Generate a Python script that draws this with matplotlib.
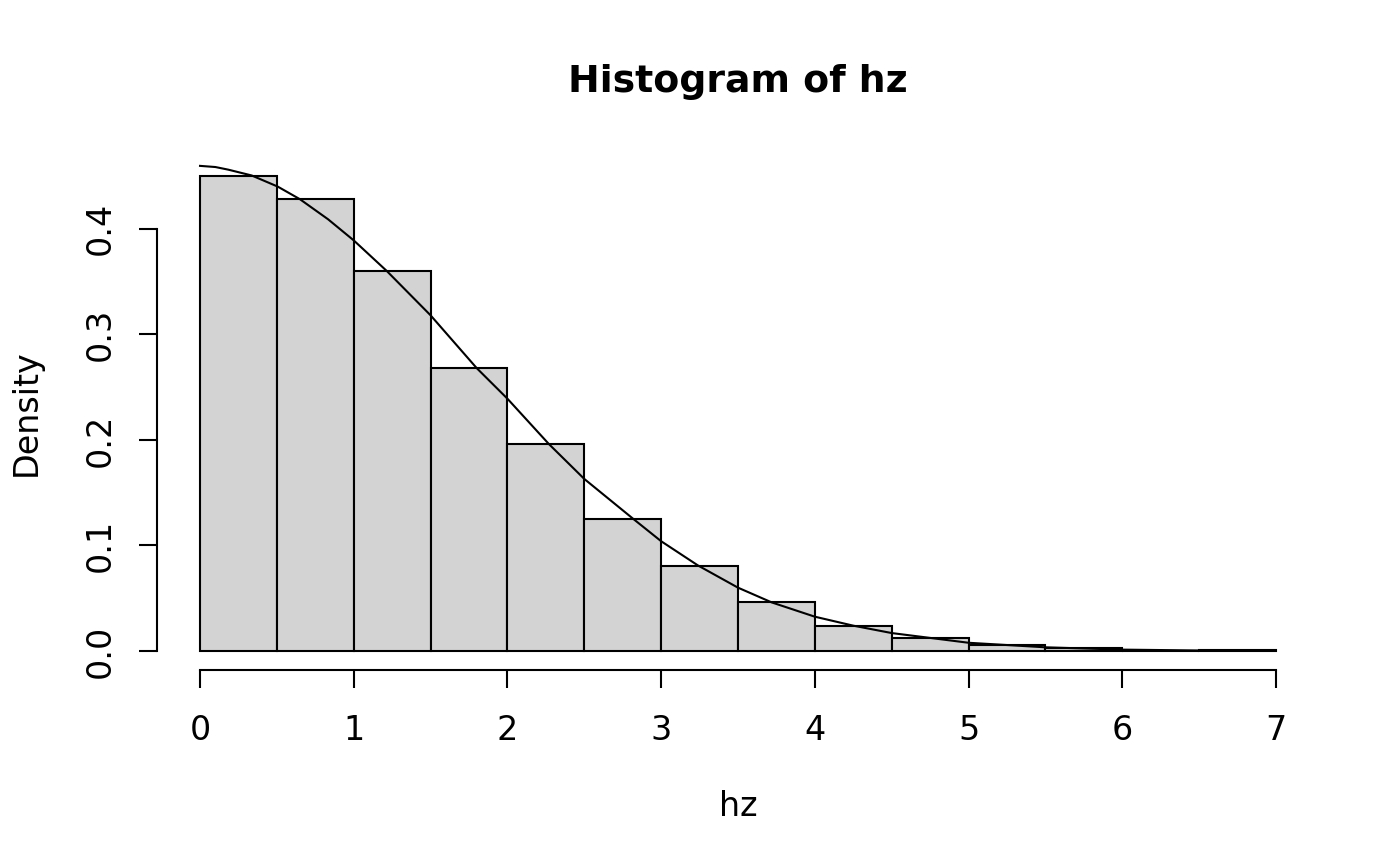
import matplotlib
matplotlib.use("Agg")
import matplotlib.pyplot as plt
import numpy as np

# Histogram data (density), bins of width 0.5 from 0 to 7
bin_edges = [0.0, 0.5, 1.0, 1.5, 2.0, 2.5, 3.0, 3.5, 4.0, 4.5, 5.0, 5.5, 6.0, 6.5, 7.0]
densities = [0.450, 0.428, 0.360, 0.268, 0.196, 0.125, 0.081, 0.046, 0.024, 0.012,
             0.006, 0.003, 0.0004, 0.001]

# Density curve points
curve_x = [0.0, 0.1, 0.184, 0.336, 0.505, 0.65, 0.833, 1.0, 1.215, 1.5, 1.8, 2.0, 2.27,
           2.5, 2.82, 3.0, 3.24, 3.5, 3.72, 4.0, 4.25, 4.5, 5.0, 5.5, 6.0, 6.5, 7.0]
curve_y = [0.4596, 0.4585, 0.456, 0.4505, 0.440, 0.428, 0.409, 0.389, 0.360, 0.318,
           0.268, 0.239, 0.196, 0.163, 0.125, 0.104, 0.081, 0.060, 0.046, 0.0325,
           0.024, 0.017, 0.0078, 0.0035, 0.0013, 0.0005, 0.0002]

x_ticks = [0, 1, 2, 3, 4, 5, 6, 7]
x_tick_labels = ["0", "1", "2", "3", "4", "5", "6", "7"]
y_ticks = [0.0, 0.1, 0.2, 0.3, 0.4]
y_tick_labels = ["0.0", "0.1", "0.2", "0.3", "0.4"]

plt.rcParams['font.family'] = ['DejaVu Sans']

W, H = 1400, 866
fig = plt.figure(figsize=(14, 8.66), dpi=100)
left, right, top, bottom = 157, 1319, 157, 670
ax = fig.add_axes([left / W, 1 - bottom / H, (right - left) / W, (bottom - top) / H])

lw = 1.5
widths = np.diff(bin_edges)
ax.bar(bin_edges[:-1], densities, width=widths, align='edge', color='#D3D3D3',
       edgecolor='black', linewidth=lw)
ax.plot(curve_x, curve_y, color='black', linewidth=lw, solid_joinstyle='round')

ax.set_xlim(-0.28, 7.28)
ax.set_ylim(-0.018, 0.468)

for s in ['top', 'right']:
    ax.spines[s].set_visible(False)
ax.spines['left'].set_bounds(0, 0.4)
ax.spines['bottom'].set_bounds(0, 7)
ax.spines['left'].set_linewidth(lw)
ax.spines['bottom'].set_linewidth(lw)

ax.set_xticks(x_ticks)
ax.set_xticklabels(x_tick_labels)
ax.set_yticks(y_ticks)
ax.set_yticklabels(y_tick_labels, rotation=90, va='center')
ax.tick_params(axis='both', direction='out', length=13, width=lw, labelsize=24, color='black')
ax.tick_params(axis='x', pad=19)
ax.tick_params(axis='y', pad=16)

fig.text((left + right) / 2 / W, 1 - 92 / H, "Histogram of hz", ha='center', va='baseline',
         fontsize=27.3, fontweight='bold')
fig.text((left + right) / 2 / W, 1 - 816 / H, "hz", ha='center', va='baseline', fontsize=24)
fig.text(26 / W, 1 - 413 / H, "Density", ha='center', va='center', rotation=90, fontsize=24)

fig.savefig("out.png", dpi=100)
